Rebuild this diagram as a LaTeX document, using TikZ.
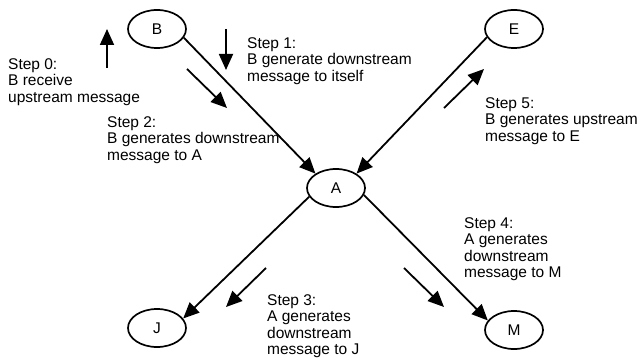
\documentclass[tikz,border=0pt]{standalone}
\usepackage{fontspec}
\setmainfont{Liberation Sans}
\usetikzlibrary{shapes.geometric,arrows.meta}
\begin{document}
\begin{tikzpicture}[x=1pt,y=-1pt,
  state/.style={ellipse,draw,line width=1.7pt,minimum width=58pt,minimum height=38pt,
    inner sep=0pt,font=\fontsize{15.5}{16.6}\selectfont},
  link/.style={line width=1.8pt,-{Triangle[length=16pt,width=14pt]}},
  note/.style={align=left,anchor=north west,inner sep=0pt,
    font=\fontsize{15.5}{16.6}\selectfont}]
\useasboundingbox (0,0) rectangle (642,358);

% stations
\node[state] (B) at (157,29) {B};
\node[state] (E) at (514,29) {E};
\node[state] (A) at (336,188) {A};
\node[state] (J) at (157,328) {J};
\node[state] (M) at (514,330) {M};

% links between stations
\draw[link] (B.-18) -- (A.145);
\draw[link] (E.197) -- (A.35);
\draw[link] (A.198) -- (J.20);
\draw[link] (A.-14) -- (M.160);

% message flow indicators
\coordinate (s0a) at (107,68);  \coordinate (s0b) at (107,29);
\coordinate (s1a) at (226,29);  \coordinate (s1b) at (226,70);
\coordinate (s2a) at (187,69);  \coordinate (s2b) at (227,108);
\coordinate (s5a) at (444,108); \coordinate (s5b) at (484,69);
\coordinate (s3a) at (266,268); \coordinate (s3b) at (226,307);
\coordinate (s4a) at (404,268); \coordinate (s4b) at (444,307);
\draw[link] (s0a) -- (s0b);
\draw[link] (s1a) -- (s1b);
\draw[link] (s2a) -- (s2b);
\draw[link] (s5a) -- (s5b);
\draw[link] (s3a) -- (s3b);
\draw[link] (s4a) -- (s4b);

% step descriptions
\node[note] (t0) at (8,58) {Step 0:\\B receive\\upstream message};
\node[note] (t1) at (247,37) {Step 1:\\B generate downstream\\message to itself};
\node[note] (t2) at (107,116) {Step 2:\\B generates downstream\\message to A};
\node[note] (t5) at (485,97) {Step 5:\\B generates upstream\\message to E};
\node[note] (t4) at (464,217) {Step 4:\\A generates\\downstream\\message to M};
\node[note] (t3) at (267,294) {Step 3:\\A generates\\downstream\\message to J};
\end{tikzpicture}
\end{document}
